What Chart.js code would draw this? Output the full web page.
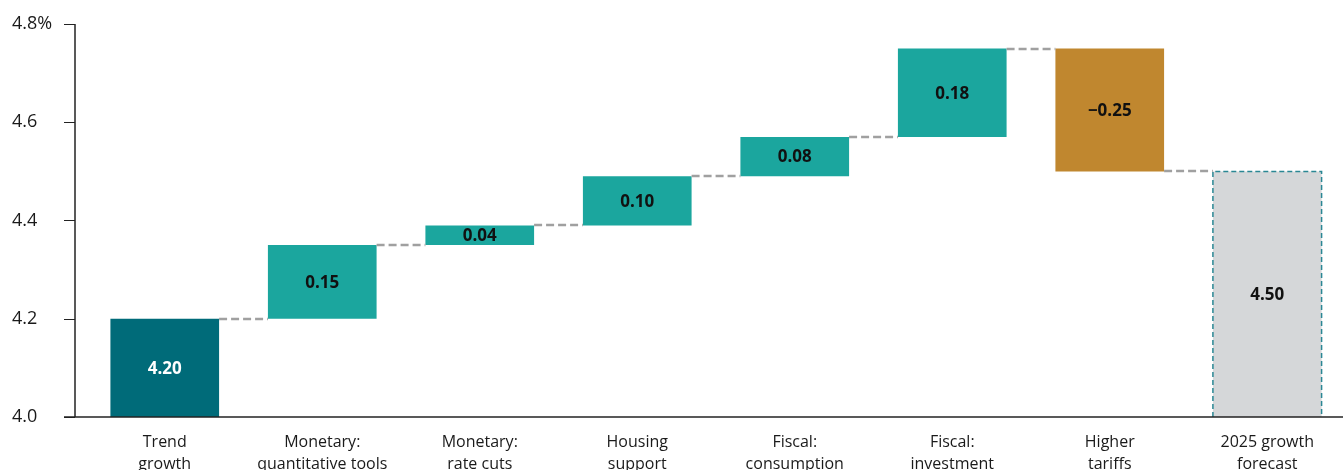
<!DOCTYPE html>
<html>
<head>
<meta charset="utf-8">
<script src="https://cdn.jsdelivr.net/npm/chart.js@4.4.1/dist/chart.umd.min.js"></script>
<style>
  body { margin: 0; overflow: hidden; background: #fff; }
  #wrap { width: 1346px; height: 470px; position: relative; }
</style>
</head>
<body>
<div id="wrap"><canvas id="myChart"></canvas></div>
<script>
var categories = [["Trend", "growth"], ["Monetary:", "quantitative tools"], ["Monetary:", "rate cuts"],
  ["Housing", "support"], ["Fiscal:", "consumption"], ["Fiscal:", "investment"],
  ["Higher", "tariffs"], ["2025 growth", "forecast"]];
var contributions = [4.20, 0.15, 0.04, 0.10, 0.08, 0.18, -0.25, 4.50];
var barKinds = ["base", "up", "up", "up", "up", "up", "down", "total"];
var yTicks = [4.0, 4.2, 4.4, 4.6, 4.8];

var palette = { base: "#006B79", up: "#1BA69E", down: "#C0872F", total: "#D5D7D9" };
var yMin = 4.0, yMax = 4.8;

// floating ranges for the waterfall
var ranges = [];
var ends = [];
var running = yMin;
for (var i = 0; i < contributions.length; i++) {
  var k = barKinds[i];
  if (k == "base" || k == "total") {
    ranges.push([yMin, contributions[i]]);
    running = contributions[i];
  } else {
    ranges.push([running, running + contributions[i]]);
    running = running + contributions[i];
  }
  ends.push(running);
}

function fmt(v) {
  return (v < 0 ? "\u2212" : "") + Math.abs(v).toFixed(2);
}

var FONT = "'Open Sans', Lato, sans-serif";

var waterfallDecor = {
  id: 'waterfallDecor',
  afterDatasetsDraw: function(chart) {
    var ctx = chart.ctx;
    var y = chart.scales.y;
    var area = chart.chartArea;
    var bars = chart.getDatasetMeta(0).data;
    ctx.save();

    // dashed connectors
    ctx.strokeStyle = '#a0a0a0';
    ctx.lineWidth = 2.5;
    ctx.setLineDash([8, 4]);
    for (var i = 0; i < bars.length - 1; i++) {
      var lvl = Math.round(y.getPixelForValue(ends[i]));
      ctx.beginPath();
      ctx.moveTo(bars[i].x + bars[i].width / 2, lvl);
      ctx.lineTo(bars[i + 1].x - bars[i + 1].width / 2, lvl);
      ctx.stroke();
    }

    // dashed outline on the forecast bar
    var t = bars[bars.length - 1];
    var tl = t.x - t.width / 2, tr = t.x + t.width / 2;
    var tt = Math.min(t.y, t.base), tb = Math.max(t.y, t.base);
    ctx.strokeStyle = '#2A8794';
    ctx.lineWidth = 1.5;
    ctx.setLineDash([5, 3]);
    ctx.beginPath();
    ctx.moveTo(tl, tb); ctx.lineTo(tl, tt); ctx.lineTo(tr, tt); ctx.lineTo(tr, tb);
    ctx.stroke();
    ctx.setLineDash([]);

    // axes
    var ax = area.left - 11;
    ctx.strokeStyle = '#222';
    ctx.lineWidth = 1.5;
    ctx.beginPath();
    ctx.moveTo(ax, y.getPixelForValue(yMax));
    ctx.lineTo(ax, area.bottom);
    ctx.stroke();
    ctx.lineWidth = 1;
    for (var j = 0; j < yTicks.length; j++) {
      var ty = Math.round(y.getPixelForValue(yTicks[j])) + 0.5;
      ctx.beginPath();
      ctx.moveTo(ax - 11, ty);
      ctx.lineTo(ax, ty);
      ctx.stroke();
    }
    ctx.lineWidth = 1.5;
    ctx.beginPath();
    ctx.moveTo(ax - 11, area.bottom);
    ctx.lineTo(chart.width, area.bottom);
    ctx.stroke();

    // value labels
    ctx.font = "bold 17px " + FONT;
    ctx.textAlign = 'center';
    ctx.textBaseline = 'middle';
    for (var m = 0; m < bars.length; m++) {
      var b = bars[m];
      ctx.fillStyle = barKinds[m] == "base" ? '#ffffff' : '#111111';
      ctx.fillText(fmt(contributions[m]), b.x, (b.y + b.base) / 2 + 1);
    }
    ctx.restore();
  }
};

var chart = new Chart(document.getElementById("myChart"), {
  type: 'bar',
  data: {
    labels: categories,
    datasets: [{
      data: ranges,
      backgroundColor: barKinds.map(function(k) { return palette[k]; }),
      borderWidth: 0,
      barPercentage: 0.69,
      categoryPercentage: 1.0
    }]
  },
  options: {
    responsive: true,
    maintainAspectRatio: false,
    animation: false,
    layout: { padding: { left: 12, top: 24, right: 0, bottom: 0 } },
    plugins: { legend: { display: false }, tooltip: { enabled: false } },
    scales: {
      x: {
        grid: { display: false, drawTicks: false },
        border: { display: false },
        ticks: {
          color: '#1a1a1a',
          font: { family: FONT, size: 16, lineHeight: 1.38 },
          padding: 14,
          maxRotation: 0,
          autoSkip: false
        },
        afterFit: function(scale) { scale.height = 53; }
      },
      y: {
        min: yMin,
        max: yMax,
        grid: { display: false },
        border: { display: false },
        afterBuildTicks: function(scale) {
          scale.ticks = yTicks.map(function(v) { return { value: v }; });
        },
        ticks: {
          color: '#1a1a1a',
          crossAlign: 'far',
          font: { family: FONT, size: 18 },
          callback: function(v) { return v == yMax ? v.toFixed(1) + '%' : v.toFixed(1); }
        },
        afterFit: function(scale) { scale.width = 74; }
      }
    }
  },
  plugins: [waterfallDecor]
});
</script>
</body>
</html>
